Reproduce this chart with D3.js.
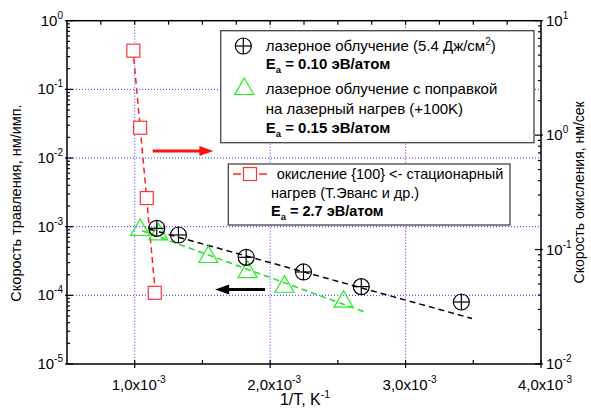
<!DOCTYPE html>
<html>
<head>
<meta charset="utf-8">
<script src="https://cdn.jsdelivr.net/npm/d3@7"></script>
<style>
  html, body { margin: 0; padding: 0; background: #fff; }
  svg text { font-family: Arial, 'Liberation Sans', sans-serif; }
</style>
</head>
<body>
<svg id="chart" width="591" height="413"></svg>
<script>
// Data
const laserX = [1.163e-3, 1.323e-3, 1.823e-3, 2.246e-3, 2.673e-3, 3.412e-3];
const laserY = [9.46e-4, 7.57e-4, 3.58e-4, 2.19e-4, 1.34e-4, 8.0e-5];
const corrX = [1.040e-3, 1.175e-3, 1.544e-3, 1.833e-3, 2.106e-3, 2.542e-3];
const corrY = [9.25e-4, 8.0e-4, 3.74e-4, 2.26e-4, 1.38e-4, 8.36e-5];
const oxX = [0.990e-3, 1.040e-3, 1.089e-3, 1.148e-3];
const oxY = [5.47, 1.16, 0.282, 0.0419];

// fitted (dashed) lines, end points
const laserFitX = [1.108e-3, 3.491e-3];
const laserFitY = [9.2e-4, 4.6e-5];
const corrFitX = [1.052e-3, 2.70e-3];
const corrFitY = [8.75e-4, 5.7e-5];
const oxFitX = [0.993e-3, 1.147e-3];
const oxFitY = [4.72, 0.049];

// tick labels
const xMajor = [1e-3, 2e-3, 3e-3, 4e-3];
const xMajorLabels = ['1,0x10', '2,0x10', '3,0x10', '4,0x10'];
const yLeftDecades = [0, -1, -2, -3, -4, -5];
const yRightDecades = [1, 0, -1, -2];

// arrows (data units)
const redArrow = { x: [1.133e-3, 1.581e-3], y: 1.27e-2 };
const blackArrow = { x: [1.963e-3, 1.594e-3], y: 1.22e-4 };

const svg = d3.select('#chart');
const pLeft = 67, pRight = 541, pTop = 20.7, pBottom = 364;

const x = d3.scaleLinear().domain([0.5e-3, 4e-3]).range([pLeft, pRight]);
const yL = d3.scaleLog().domain([1e-5, 1]).range([pBottom, pTop]);
const yR = d3.scaleLog().domain([1e-2, 10]).range([pBottom, pTop]);

// grid
const grid = svg.append('g')
    .attr('stroke', '#3333ff')
    .attr('stroke-width', 1)
    .attr('stroke-dasharray', '1,2');
[1e-3, 2e-3, 3e-3].forEach(v => {
    grid.append('line')
        .attr('x1', x(v)).attr('x2', x(v))
        .attr('y1', pTop).attr('y2', pBottom);
});
[-1, -2, -3, -4].forEach(e => {
    grid.append('line')
        .attr('x1', pLeft).attr('x2', pRight)
        .attr('y1', yL(Math.pow(10, e))).attr('y2', yL(Math.pow(10, e)));
});

// frame
svg.append('rect')
    .attr('x', pLeft).attr('y', pTop)
    .attr('width', pRight - pLeft).attr('height', pBottom - pTop)
    .attr('fill', 'none')
    .attr('stroke', '#000')
    .attr('stroke-width', 1.5);

const ticks = svg.append('g').attr('stroke', '#000').attr('stroke-width', 1.2);

// bottom ticks, every 0.5e-3
d3.range(1, 8).forEach(i => {
    const v = 0.5e-3 + i * 0.5e-3;
    const major = i % 2 === 1;
    ticks.append('line')
        .attr('x1', x(v)).attr('x2', x(v))
        .attr('y1', major ? pBottom + 4 : pBottom)
        .attr('y2', pBottom - 4);
});
// top ticks, every 0.25e-3
d3.range(1, 14).forEach(i => {
    const v = 0.5e-3 + i * 0.25e-3;
    ticks.append('line')
        .attr('x1', x(v)).attr('x2', x(v))
        .attr('y1', pTop).attr('y2', pTop + 4);
});
// left and right log ticks
function logTicks(scale, side, decades) {
    const xe = side === 'left' ? pLeft : pRight;
    const dir = side === 'left' ? 1 : -1;
    const lo = d3.min(decades), hi = d3.max(decades);
    for (let e = lo; e <= hi; e++) {
        const b = Math.pow(10, e);
        ticks.append('line')
            .attr('x1', xe - dir * 2).attr('x2', xe + dir * 6)
            .attr('y1', scale(b)).attr('y2', scale(b));
        if (e === hi) continue;
        for (let m = 2; m <= 9; m++) {
            ticks.append('line')
                .attr('x1', xe).attr('x2', xe + dir * 3)
                .attr('y1', scale(b * m)).attr('y2', scale(b * m));
        }
    }
}
logTicks(yL, 'left', yLeftDecades);
logTicks(yR, 'right', yRightDecades);

// tick labels
function powLabel(g, px, py, base, exp, anchor) {
    const t = g.append('text')
        .attr('x', px).attr('y', py)
        .attr('text-anchor', anchor)
        .attr('font-size', 15)
        .attr('fill', '#000');
    t.append('tspan').text(base);
    t.append('tspan').attr('dy', -7).attr('font-size', 10).text(exp);
    return t;
}
const labels = svg.append('g');
yLeftDecades.forEach(e => {
    powLabel(labels, pLeft - 4, yL(Math.pow(10, e)) + 5, '10', String(e), 'end');
});
yRightDecades.forEach(e => {
    powLabel(labels, pRight + 5, yR(Math.pow(10, e)) + 5, '10', String(e), 'start');
});
xMajor.forEach((v, i) => {
    powLabel(labels, x(v) + 4, pBottom + 26, xMajorLabels[i], '-3', 'middle');
});

// axis titles
const xt = svg.append('text')
    .attr('x', 305).attr('y', 405)
    .attr('text-anchor', 'middle')
    .attr('font-size', 16);
xt.append('tspan').text('1/T, K');
xt.append('tspan').attr('dy', -7).attr('font-size', 10.5).text('-1');

svg.append('text')
    .attr('transform', `translate(21,203) rotate(-90)`)
    .attr('text-anchor', 'middle')
    .attr('font-size', 14.5)
    .text('Скорость травления, нм/имп.');

svg.append('text')
    .attr('transform', `translate(584,${(pTop + pBottom) / 2}) rotate(-90)`)
    .attr('text-anchor', 'middle')
    .attr('font-size', 14)
    .text('Скорость окисления, нм/сек');

// fit lines
const lineL = d3.line().x(d => x(d[0])).y(d => yL(d[1]));
const lineR = d3.line().x(d => x(d[0])).y(d => yR(d[1]));

svg.append('path')
    .datum(d3.zip(laserFitX, laserFitY))
    .attr('d', lineL)
    .attr('stroke', '#000').attr('stroke-width', 1.5)
    .attr('stroke-dasharray', '6,4').attr('fill', 'none');
svg.append('path')
    .datum(d3.zip(corrFitX, corrFitY))
    .attr('d', lineL)
    .attr('stroke', '#22dd22').attr('stroke-width', 1.5)
    .attr('stroke-dasharray', '6,4').attr('fill', 'none');
svg.append('path')
    .datum(d3.zip(oxFitX, oxFitY))
    .attr('d', lineR)
    .attr('stroke', '#ff2222').attr('stroke-width', 1.5)
    .attr('stroke-dasharray', '6,4').attr('fill', 'none');

// markers
function circlePlus(g, cx, cy) {
    g.append('circle').attr('cx', cx).attr('cy', cy).attr('r', 8)
        .attr('fill', 'none').attr('stroke', '#000').attr('stroke-width', 1.2);
    g.append('line').attr('x1', cx - 8).attr('x2', cx + 8).attr('y1', cy).attr('y2', cy)
        .attr('stroke', '#000').attr('stroke-width', 1.2);
    g.append('line').attr('x1', cx).attr('x2', cx).attr('y1', cy - 8).attr('y2', cy + 8)
        .attr('stroke', '#000').attr('stroke-width', 1.2);
}
function triangle(g, cx, cy) {
    g.append('path')
        .attr('d', `M${cx},${cy - 10}L${cx + 9.5},${cy + 6.5}L${cx - 9.5},${cy + 6.5}Z`)
        .attr('fill', 'none').attr('stroke', '#22ee22').attr('stroke-width', 1.2);
}
function square(g, cx, cy) {
    g.append('rect').attr('x', cx - 6.5).attr('y', cy - 6.5)
        .attr('width', 13).attr('height', 13)
        .attr('fill', '#fff').attr('stroke', '#ff3333').attr('stroke-width', 1.2);
}

const marks = svg.append('g');
d3.zip(oxX, oxY).forEach(d => square(marks, x(d[0]), yR(d[1])));
d3.zip(corrX, corrY).forEach(d => triangle(marks, x(d[0]), yL(d[1])));
d3.zip(laserX, laserY).forEach(d => circlePlus(marks, x(d[0]), yL(d[1])));

// arrows
function arrow(a, color) {
    const x0 = x(a.x[0]), x1 = x(a.x[1]), yy = yL(a.y);
    const dir = x1 > x0 ? 1 : -1;
    svg.append('line')
        .attr('x1', x0).attr('x2', x1 - dir * 10)
        .attr('y1', yy).attr('y2', yy)
        .attr('stroke', color).attr('stroke-width', 3);
    svg.append('path')
        .attr('d', `M${x1},${yy}L${x1 - dir * 14},${yy - 5}L${x1 - dir * 14},${yy + 5}Z`)
        .attr('fill', color);
}
arrow(redArrow, '#ff1111');
arrow(blackArrow, '#000');

// legend 1
const lg1 = svg.append('g');
lg1.append('rect')
    .attr('x', 220.7).attr('y', 30.7).attr('width', 313.3).attr('height', 112)
    .attr('fill', '#fff').attr('stroke', '#444').attr('stroke-width', 1.3);
circlePlus(lg1, 243.3, 46);
triangle(lg1, 244.3, 88);

function legText(g, px, py, bold, size) {
    return g.append('text').attr('x', px).attr('y', py)
        .attr('font-size', size || 15)
        .attr('font-weight', bold ? 'bold' : 'normal');
}
let t = legText(lg1, 265.7, 51);
t.append('tspan').text('лазерное облучение (5.4 Дж/см');
t.append('tspan').attr('dy', -6).attr('font-size', 10).text('2');
t.append('tspan').attr('dy', 6).text(')');

function eaLine(g, px, py, rest, size) {
    const tt = legText(g, px, py, true, size);
    tt.append('tspan').text('E');
    tt.append('tspan').attr('dy', 4).attr('font-size', 9.5).text('a');
    tt.append('tspan').attr('dy', -4).text(rest);
}
eaLine(lg1, 265.7, 69, ' = 0.10 эВ/атом');
legText(lg1, 265.7, 94).text('лазерное облучение с поправкой');
legText(lg1, 265.7, 114).text('на лазерный нагрев (+100K)');
eaLine(lg1, 265.7, 133, ' = 0.15 эВ/атом');

// legend 2
const lg2 = svg.append('g');
lg2.append('rect')
    .attr('x', 228.3).attr('y', 164).attr('width', 281.7).attr('height', 61)
    .attr('fill', '#fff').attr('stroke', '#444').attr('stroke-width', 1.3);
lg2.append('line').attr('x1', 233).attr('x2', 241).attr('y1', 174).attr('y2', 174)
    .attr('stroke', '#ff2222').attr('stroke-width', 1.5);
lg2.append('line').attr('x1', 259).attr('x2', 267).attr('y1', 174).attr('y2', 174)
    .attr('stroke', '#ff2222').attr('stroke-width', 1.5);
square(lg2, 250, 174);
legText(lg2, 276.7, 179, false, 14.5).text('окисление {100} <- стационарный');
legText(lg2, 271, 198, false, 14.5).text('нагрев (Т.Эванс и др.)');
eaLine(lg2, 271, 216, ' = 2.7 эВ/атом', 14.5);
</script>
</body>
</html>
